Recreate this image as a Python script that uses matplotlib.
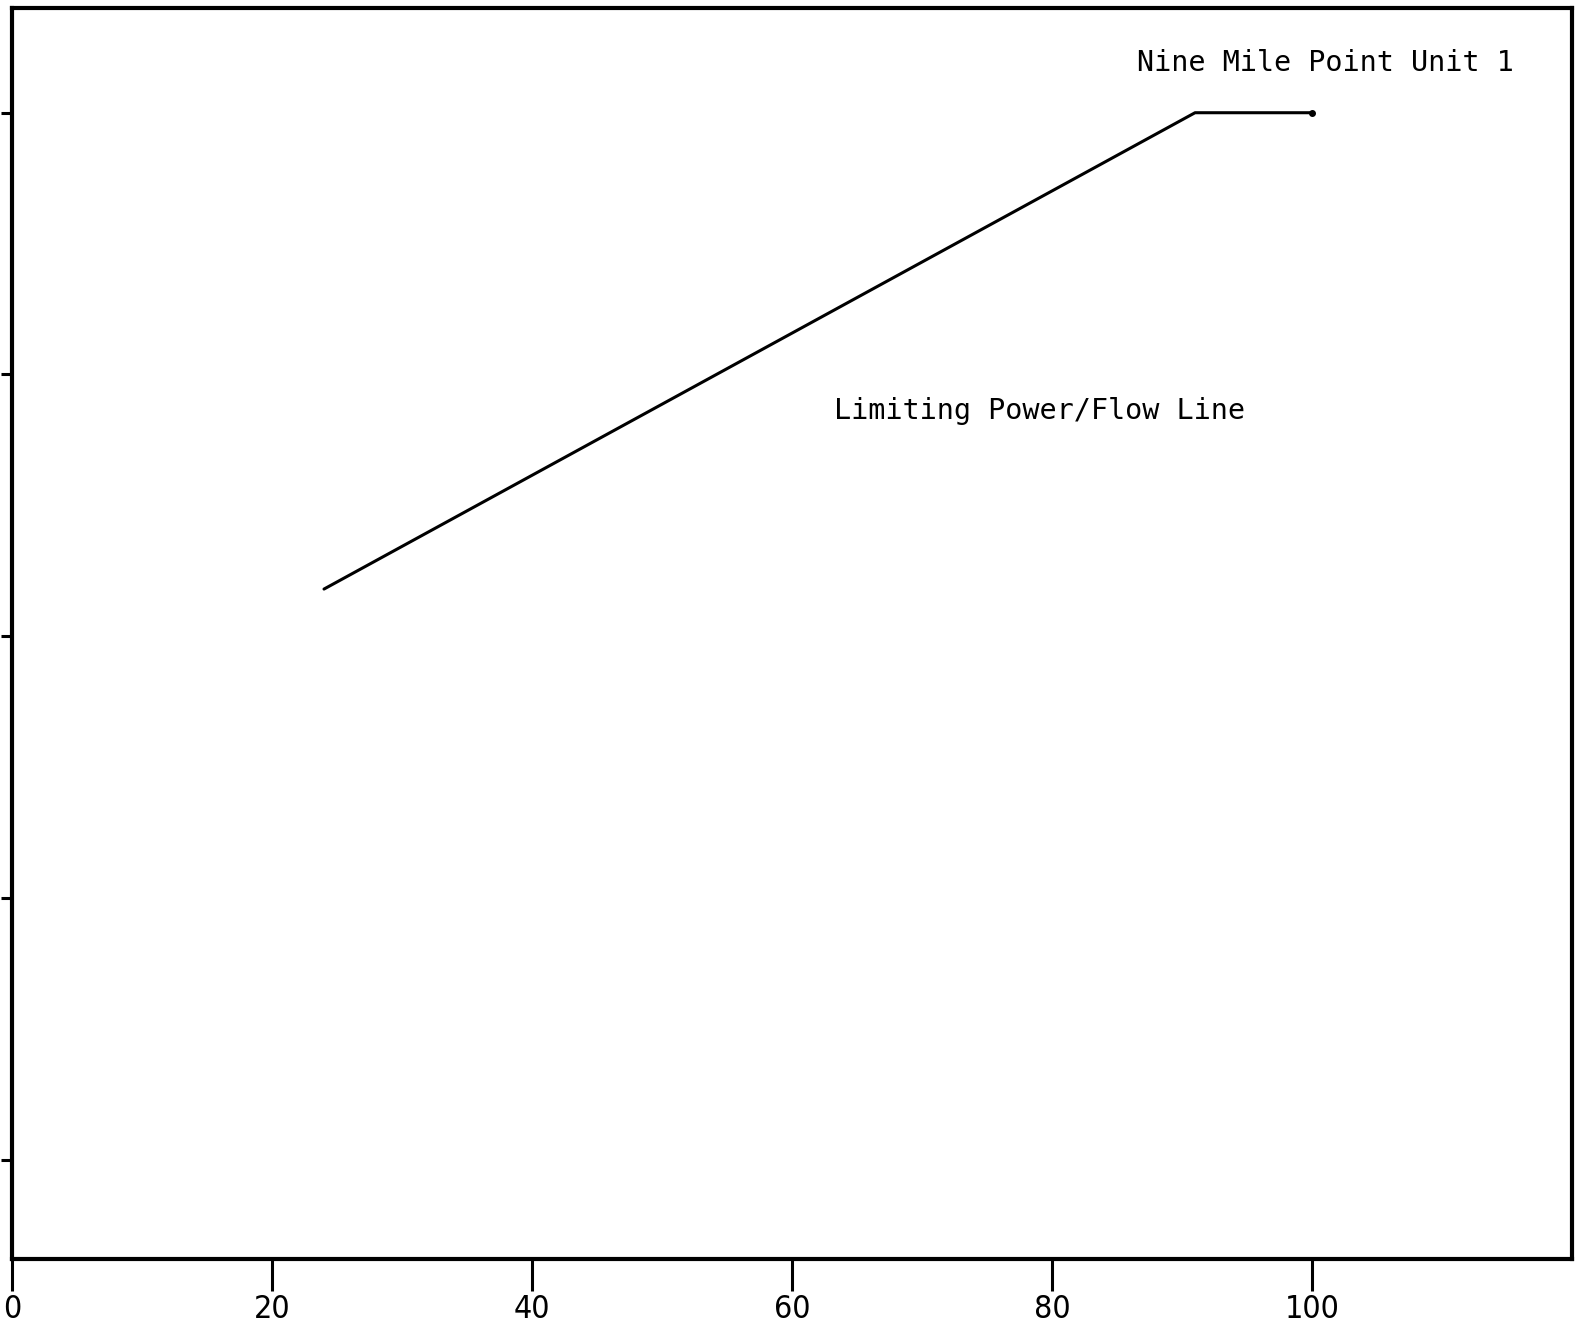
import matplotlib
matplotlib.use("Agg")
import matplotlib.pyplot as plt

# limiting power/flow line
flow = [24, 91, 100]
power = [63.6, 100, 100]

x_ticks = [0, 20, 40, 60, 80, 100]
y_ticks = [20, 40, 60, 80, 100]

title_text = "Nine Mile Point Unit 1"
line_text = "Limiting Power/Flow Line"

fig = plt.figure(figsize=(15.79, 13.39), dpi=100)
ax = fig.add_axes([0.0076, 0.0597, 0.988, 0.9343])

# the plotted line, with a dot at its end
ax.plot(flow, power, color="black", lw=2.2, solid_capstyle="round")
ax.plot(flow[-1], power[-1], "o", color="black", ms=4)

ax.set_xlim(0, 120)
ax.set_ylim(12.4, 108.0)

ax.set_xticks(x_ticks)
ax.set_xticklabels([str(v) for v in x_ticks], fontsize=23,
                   family="DejaVu Sans", fontstretch="condensed")
ax.set_yticks(y_ticks)
ax.set_yticklabels([])
ax.tick_params(axis="x", direction="out", length=23, width=2.2, pad=2)
ax.tick_params(axis="y", direction="out", length=8, width=2.2)

for s in ax.spines.values():
    s.set_linewidth(3)

ax.text(86.5, 103.8, title_text, fontsize=20.5, family="DejaVu Sans Mono",
        va="center", ha="left")
ax.text(63.2, 77.2, line_text, fontsize=20.5, family="DejaVu Sans Mono",
        va="center", ha="left")

fig.savefig("out.png", dpi=100)
